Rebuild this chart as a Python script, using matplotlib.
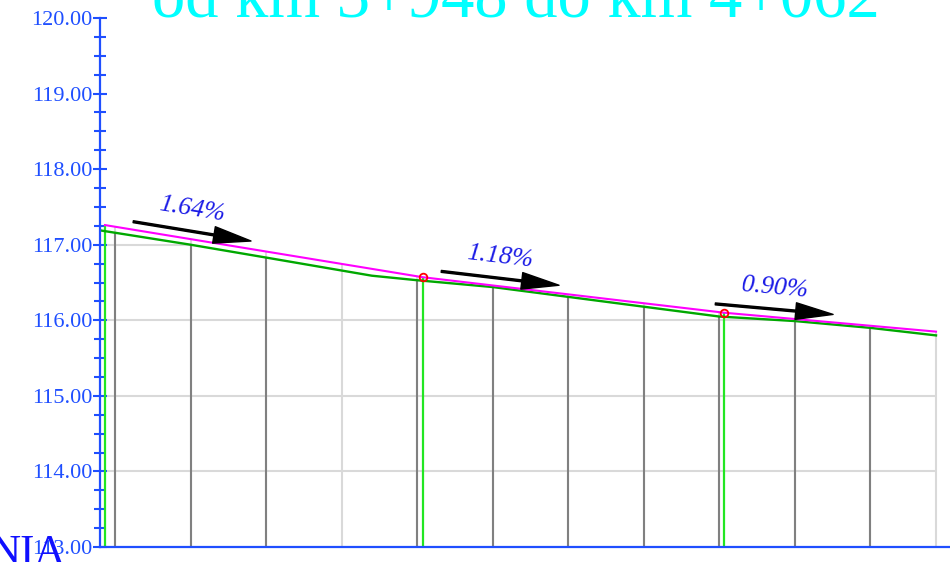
import numpy as np
import matplotlib
matplotlib.use("Agg")
import matplotlib.pyplot as plt
from matplotlib.patches import Polygon

# ---------------- data ----------------
title_text = "od km 3+948 do km 4+062"
datum_text = "NIA"
y_ticks = [113, 114, 115, 116, 117, 118, 119, 120]

# terrain (existing ground) profile: chainage [m], elevation [m]
terrain_ch = [3948.0, 3960.0, 3970.0, 3984.0, 3990.0, 4000.0, 4010.0, 4020.0,
              4030.0, 4040.0, 4050.0, 4058.73]
terrain_z = [117.19, 117.00, 116.83, 116.59, 116.53, 116.44, 116.31, 116.18,
             116.05, 115.99, 115.90, 115.80]

# design grade line (niveleta) break points
grade_ch = [3948.66, 3990.74, 4030.70, 4058.73]
grade_z = [117.26, 116.57, 116.10, 115.85]
slope_labels = ["1.64%", "1.18%", "0.90%"]

# station lines
station_dark = [3950, 3960, 3970, 3990, 4000, 4010, 4020, 4030, 4040, 4050]
station_grid = [3950, 3960, 3970, 3980, 3990, 4000, 4010, 4020, 4030, 4040, 4050, 4058.73]
grid_levels = [114, 115, 116, 117, 118, 119]

# ---------------- style ----------------
AX_BLUE = "#1f4fff"
TXT_BLUE = "#1a1ae6"
SERIF = ["Liberation Serif", "DejaVu Serif"]

W, H = 950, 562
fig = plt.figure(figsize=(W / 100, H / 100), dpi=100)
ax = fig.add_axes([100 / W, 15 / H, 850 / W, 529 / H])
ax.set_xlim(3948.0, 3948.0 + 850 / 7.55)
ax.set_ylim(113, 120)

# horizontal grid lines, clipped under terrain
terr_poly = Polygon(list(zip(terrain_ch, terrain_z)) + [(terrain_ch[-1], 113), (terrain_ch[0], 113)],
                    closed=True, facecolor="none", edgecolor="none", transform=ax.transData)
ax.add_patch(terr_poly)
hl = ax.hlines(grid_levels, terrain_ch[0], terrain_ch[-1], colors="#d9d9d9", linewidth=1.5, zorder=1)
hl.set_clip_path(terr_poly)

# light station lines up to the grade line
ax.vlines(station_grid, 113, np.interp(station_grid, grade_ch, grade_z),
          colors="#d9d9d9", linewidth=1.5, zorder=1)
# dark station lines up to the terrain
ax.vlines(station_dark, 113, np.interp(station_dark, terrain_ch, terrain_z),
          colors="#808080", linewidth=1.5, zorder=2)
# bright green verticals at grade break points (except the end)
ax.vlines(grade_ch[:-1], 113, grade_z[:-1], colors="#22e622", linewidth=1.6, zorder=3)

# terrain and grade
ax.plot(terrain_ch, terrain_z, color="#00a800", linewidth=1.7, zorder=4)
ax.plot(grade_ch, grade_z, color="#ff00ff", linewidth=1.5, zorder=5)
ax.plot(grade_ch[1:-1], grade_z[1:-1], linestyle="none", marker="o", markersize=5.5,
        markerfacecolor="none", markeredgecolor="red", markeredgewidth=1.3, zorder=6)

# slope arrows and labels
arrow_start = [3952.4, 3993.2, 4029.5]
arrow_len = 15.6
arrow_off = 0.106
for i, lab in enumerate(slope_labels):
    k = (grade_z[i + 1] - grade_z[i]) / (grade_ch[i + 1] - grade_ch[i])
    x0 = arrow_start[i]
    x1 = x0 + arrow_len
    y0 = grade_z[i] + (x0 - grade_ch[i]) * k + arrow_off
    y1 = grade_z[i] + (x1 - grade_ch[i]) * k + arrow_off
    ax.annotate("", xy=(x1, y1), xytext=(x0, y0),
                arrowprops=dict(facecolor="black", edgecolor="black", width=1.4,
                                headwidth=12, headlength=27, shrink=0), zorder=7)
    p0 = ax.transData.transform((x0, y0))
    p1 = ax.transData.transform((x1, y1))
    ang = np.degrees(np.arctan2(p1[1] - p0[1], p1[0] - p0[0]))
    xm, ym = (x0 + x1) / 2, (y0 + y1) / 2
    ax.annotate(lab, xy=(xm, ym), xytext=(0, 15.5), textcoords="offset points",
                ha="center", va="center", rotation=ang, rotation_mode="anchor",
                fontsize=18.5, fontstyle="italic", family=SERIF, color=TXT_BLUE, zorder=8)

# axes styling
for s in ["top", "right"]:
    ax.spines[s].set_visible(False)
for s in ["left", "bottom"]:
    ax.spines[s].set_color(AX_BLUE)
    ax.spines[s].set_linewidth(1.6)
    ax.spines[s].set_zorder(9)
ax.set_xticks([])
ax.set_yticks(y_ticks)
ax.set_yticklabels([f"{v:.2f}" for v in y_ticks])
ax.set_yticks(np.arange(113, 120.01, 0.25), minor=True)
ax.tick_params(axis="y", which="major", direction="inout", length=10.5, width=1.5,
               color=AX_BLUE, labelcolor=AX_BLUE, labelsize=16, pad=0.3)
ax.tick_params(axis="y", which="minor", direction="inout", length=8, width=1.5, color=AX_BLUE)
for t in ax.get_yticklabels():
    t.set_family(SERIF)
ax.set_facecolor("white")

# title (partly cut off at top) and datum label (partly cut off at bottom-left)
fig.text(516 / W, 1 - 18 / H, title_text, ha="center", va="baseline",
         fontsize=48, color="#00ffff", family=SERIF)
fig.text(66 / W, -2 / H, datum_text, ha="right", va="baseline",
         fontsize=31, color="#1010ff", family=SERIF)

fig.savefig("out.png", dpi=100)
